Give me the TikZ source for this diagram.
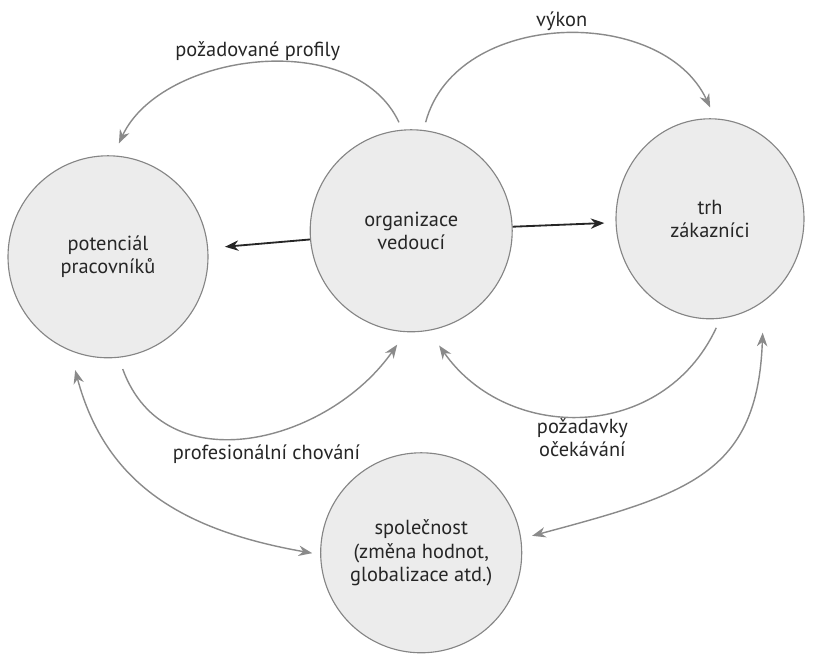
\documentclass[tikz,border=0pt]{standalone}
\usepackage{fontspec}
\setsansfont{PT Sans}
\usepackage{xcolor}
\definecolor{bubblefill}{HTML}{ECECEC}
\definecolor{bubbleline}{HTML}{858585}
\definecolor{arcgray}{HTML}{8A8A8A}
\definecolor{inkdark}{HTML}{262626}
\usetikzlibrary{positioning, arrows.meta, shapes.geometric}
\tikzset{
  >={Stealth[length=3.4mm, width=2.6mm]},
  every node/.style={font=\sffamily\fontsize{14.5}{16.5}\selectfont, text=inkdark},
  bubble/.style={
    ellipse, draw=bubbleline, fill=bubblefill, line width=0.8pt,
    minimum width=5.05cm, minimum height=5.05cm, inner sep=0pt,
    align=center
  },
  pusharrow/.style={->, inkdark, line width=1.3pt},
  flowarc/.style={->, arcgray, line width=1pt},
  botharc/.style={<->, arcgray, line width=1pt},
  arclabel/.style={align=center, inner sep=3pt}
}

\begin{document}
\begin{tikzpicture}
\useasboundingbox (0,0) rectangle (20.375,16.35);

% Bubbles
\node[bubble] (org) at (10.28,10.58) {organizace\\vedoucí};
\node[bubble, minimum width=5cm] (pot) at (2.7,9.93) {potenciál\\pracovníků};
\node[bubble, minimum width=4.7cm, minimum height=5cm] (trh) at (17.75,10.88) {trh\\zákazníci};
\node[bubble, minimum width=4.95cm, minimum height=5cm] (spol) at (10.53,2.53)
  {společnost\\(změna hodnot,\\globalizace atd.)};

% Straight arrows out of the organisation
\foreach \c/\s in {pot/0.42cm, trh/0.28cm} {
  \draw[pusharrow, shorten >=\s] (org) -- (\c);
}

% Upper arcs
\draw[flowarc, shorten <=0.2cm, shorten >=0.33cm] (org.95) to[out=115, in=65]
  node[arclabel, above] {požadované profily} (pot.87);
\draw[flowarc, shorten <=0.2cm, shorten >=0.3cm] (org.83) to[out=75, in=115, looseness=1.1]
  node[arclabel, above] {výkon} (trh.87);

% Lower arcs
\draw[flowarc, shorten <=0.3cm, shorten >=0.38cm] (pot.-84) to[out=-70, in=-125, looseness=1.2]
  node[arclabel, below, xshift=4mm, yshift=-1.5mm] {profesionální chování} (org.-93);
\draw[flowarc, shorten <=0.25cm, shorten >=0.45cm] (trh.-84) to[out=-115, in=-55, looseness=1.2]
  node[arclabel, below] {požadavky\\očekávání} (org.-80);

% Society links
\draw[botharc, shorten <=0.5cm, shorten >=0.2cm] (pot.-112) to[out=-75, in=170, looseness=1.1] (spol.181);
\draw[botharc, shorten <=0.78cm, shorten >=0.28cm] (trh.-57) to[out=-92, in=15, looseness=1.3] (spol.8);

\end{tikzpicture}
\end{document}
